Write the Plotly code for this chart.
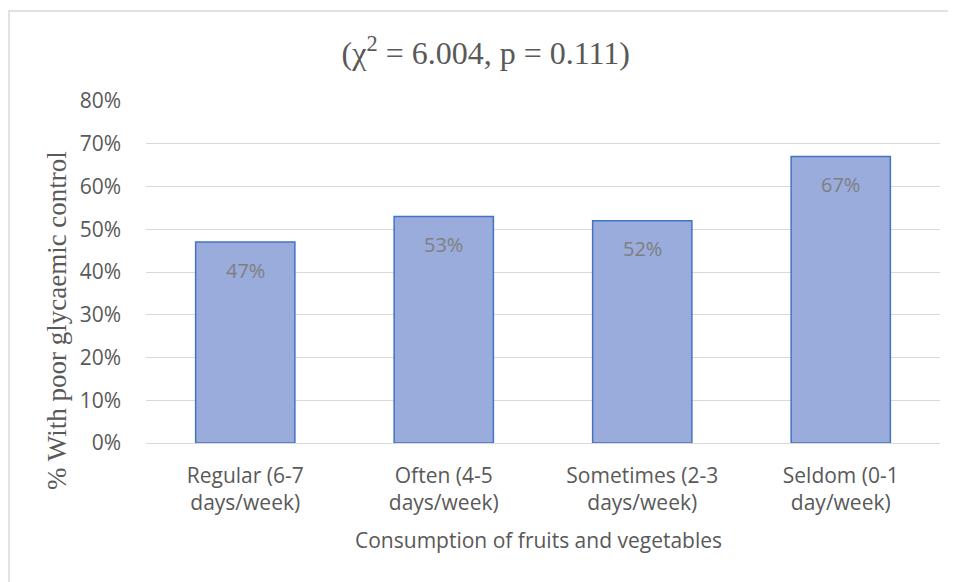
import plotly.graph_objects as go

categories = ['Regular (6-7<br>days/week)', 'Often (4-5<br>days/week)',
              'Sometimes (2-3<br>days/week)', 'Seldom (0-1<br>day/week)']
values = [0.47, 0.53, 0.52, 0.67]
tick_vals = [0, 0.1, 0.2, 0.3, 0.4, 0.5, 0.6, 0.7, 0.8]
tick_text = ['0%', '10%', '20%', '30%', '40%', '50%', '60%', '70%', '80%']

grey = '#595959'
sans = 'Open Sans, Noto Sans, sans-serif'
serif = 'Liberation Serif, Times New Roman, serif'

fig = go.Figure()
fig.add_trace(go.Bar(
    x=categories,
    y=values,
    marker=dict(color='#99ACDB', line=dict(color='#4472C4', width=1.5)),
    hoverinfo='skip',
))

# data labels a little below the top of each bar, like Excel
for c, v in zip(categories, values):
    fig.add_annotation(x=c, y=v, text=f'{round(v * 100)}%', showarrow=False,
                       yshift=-28, font=dict(family=sans, size=20, color='#7F7F7F'))

# axis titles
fig.add_annotation(xref='paper', yref='paper', x=-0.112, y=0.357,
                   xanchor='center', yanchor='middle',
                   text='% With poor glycaemic control', textangle=-90, showarrow=False,
                   font=dict(family=serif, size=27, color=grey))
fig.add_annotation(xref='paper', yref='paper', x=0.494, y=-0.284,
                   xanchor='center', yanchor='middle',
                   text='Consumption of fruits and vegetables', showarrow=False,
                   font=dict(family=sans, size=21, color=grey))

# chart-area border (only top/left visible in the crop)
fig.add_shape(type='rect', xref='paper', yref='paper',
              x0=-0.1725, x1=1.2, y0=-1.0, y1=1.263,
              line=dict(color='#D9D9D9', width=1.5), layer='below')

fig.update_layout(
    width=948, height=574,
    margin=dict(l=138, r=16, t=93, b=139),
    paper_bgcolor='white', plot_bgcolor='white',
    bargap=0.5,
    showlegend=False,
    title=dict(text='(χ<sup>2</sup> = 6.004, p = 0.111)', xref='container', x=0.504,
               xanchor='center', y=0.922, yanchor='middle',
               font=dict(family=serif, size=32, color=grey)),
)
fig.update_yaxes(
    range=[0, 0.8], tickvals=tick_vals, ticktext=tick_text,
    showgrid=True, gridcolor='#D9D9D9', gridwidth=1,
    zeroline=True, zerolinecolor='#D9D9D9', zerolinewidth=1,
    showline=False, ticks='', ticklabelstandoff=24,
    tickfont=dict(family=sans, size=21, color=grey),
)
fig.update_xaxes(
    showline=False, ticks='', showgrid=False, ticklabelstandoff=18,
    tickfont=dict(family=sans, size=21, color=grey),
)

fig.write_html('out.html')
